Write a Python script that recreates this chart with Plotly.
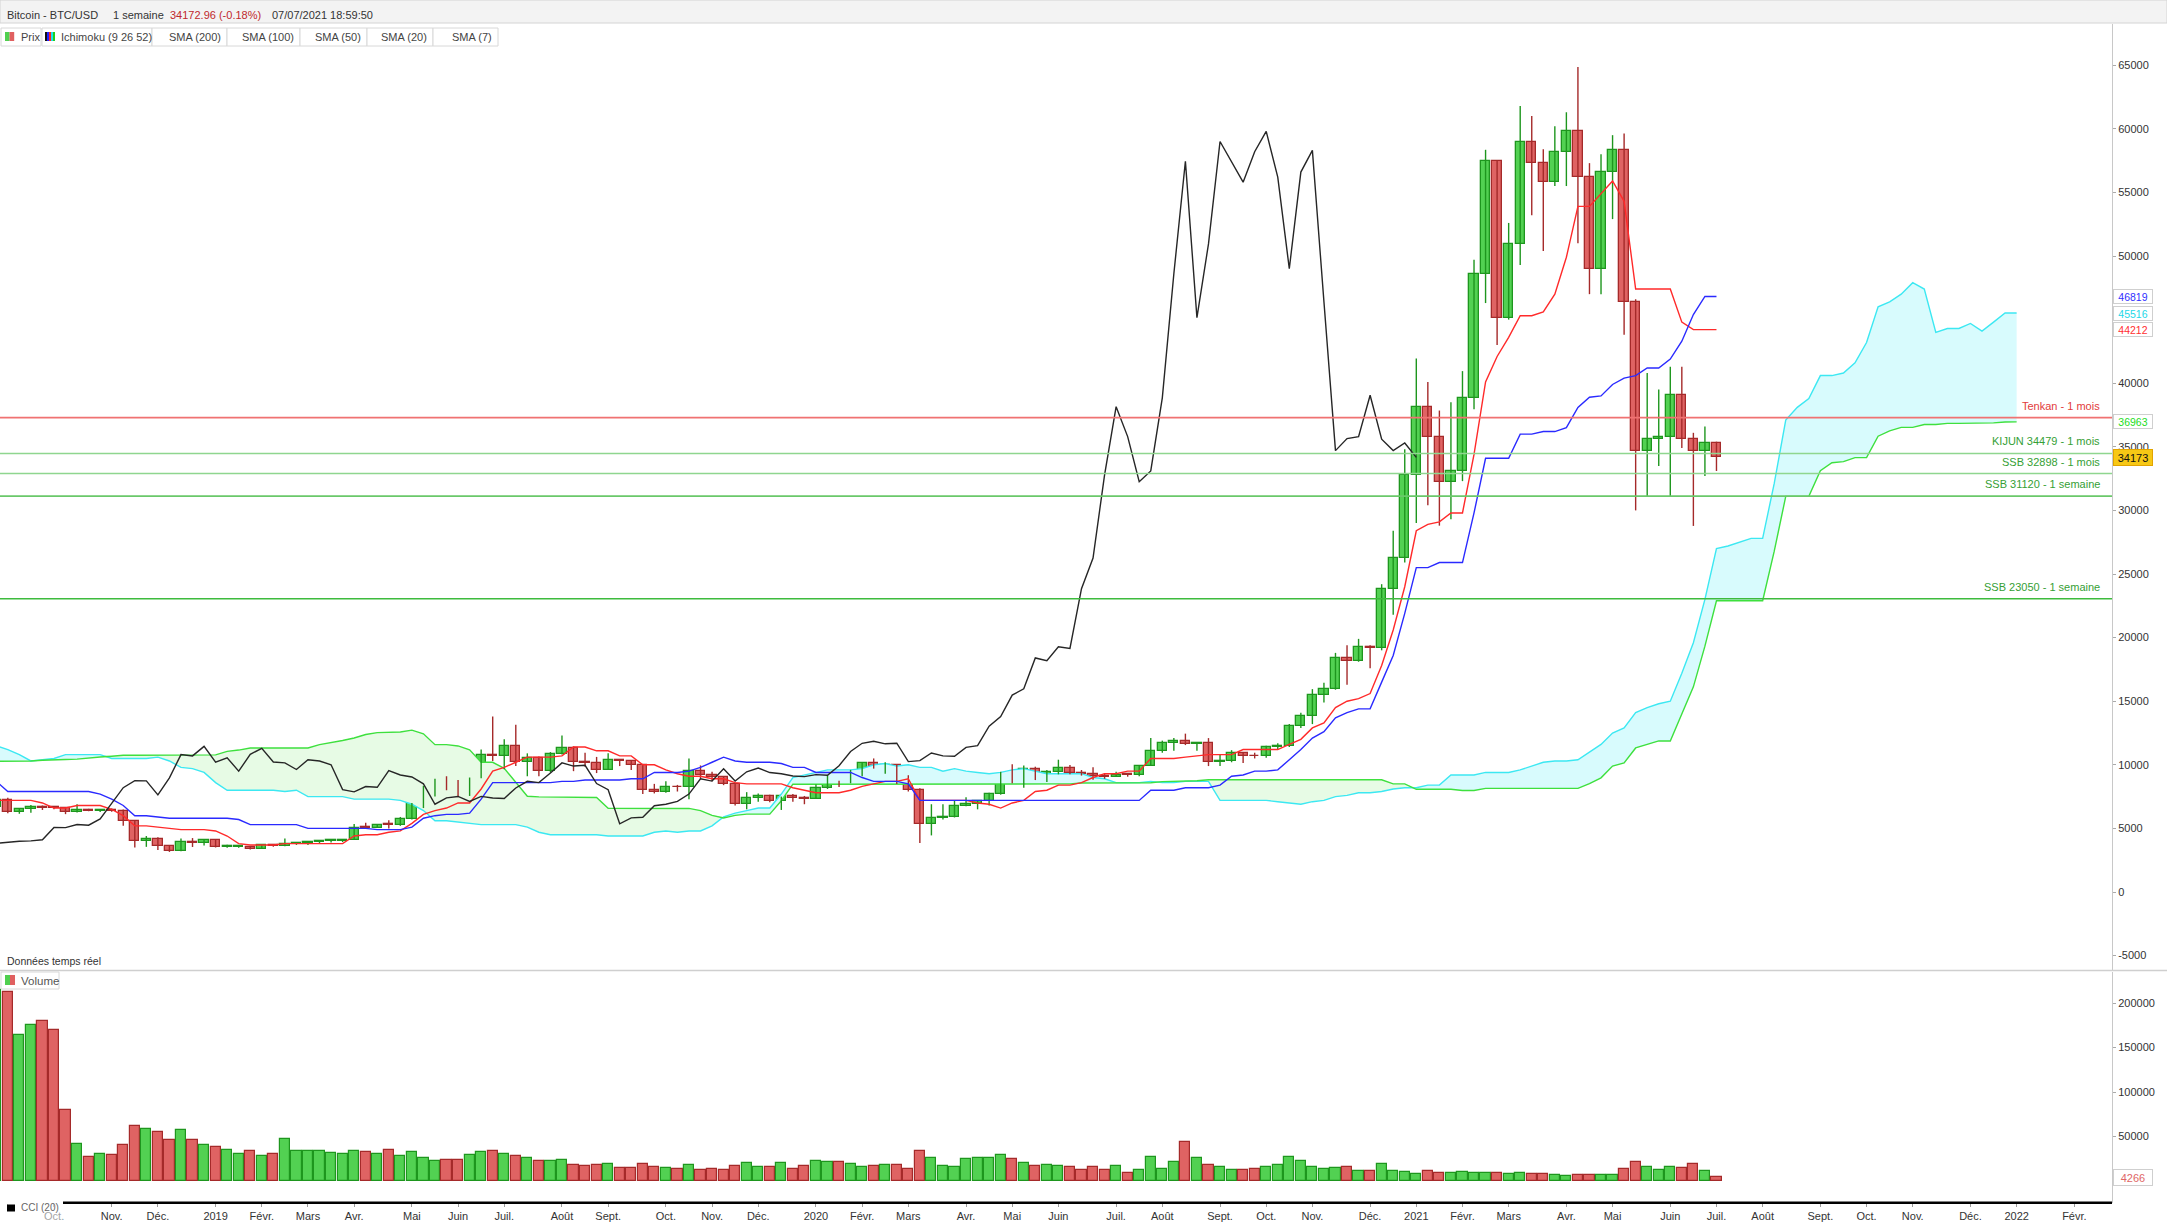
import pandas as pd
import plotly.graph_objects as go

W, H = 2167, 1223

# ---------------- data (weekly, first candle = week of 2018-08-27) ----------------
opens = [6710,7270,6260,6500,6700,6620,6590,6290,6410,6390,6480,6380,5580,4010,4140,3600,3250,3960,3830,4060,3530,3550,3570,3410,3660,3620,3750,3820,3920,3990,4020,4110,5070,5060,5300,5250,5750,6960,8200,8750,8740,7630,8980,10800,10700,11450,10200,10550,9500,10820,11300,10220,10150,9630,10400,10300,10000,8050,7870,8290,8230,9550,9200,9040,8500,6900,7400,7510,7120,7520,7390,7350,8180,8700,8600,9350,10150,9900,9960,8530,8040,5360,5830,5880,6780,6900,7120,7700,8900,8720,9680,8720,9450,9750,9390,9300,9120,9070,9230,9180,9930,11050,11690,11850,11650,11700,10250,10330,10930,10700,10670,11370,11500,13030,13800,15480,15970,18400,18180,19280,19150,23850,26250,32800,38150,35800,32250,33100,38850,48600,57450,45150,50950,59000,57350,55800,58200,59800,56200,49000,56600,58300,46400,34700,35650,35800,39050,35600,34700,35300]
highs = [7320,7410,6590,6830,6800,6680,6670,6900,6540,6490,6560,6480,5600,4400,4300,3620,4200,4240,4100,4100,3720,3630,3590,3700,3720,4200,3900,3930,4000,4060,4150,5350,5450,5350,5650,5900,7000,8350,8900,9100,8800,9000,11200,13800,12000,13150,10900,10650,11000,12300,11450,10950,10620,10900,10450,10350,10050,8500,8700,8420,10500,9950,9450,9100,8500,7850,7750,7650,7500,7700,7550,8450,9200,8750,9600,10200,10500,10200,10000,9180,8150,6900,6900,7200,7450,7200,7800,9450,10050,9950,9850,9600,10400,9980,9590,9800,9330,9450,9350,9980,12100,11900,12100,12450,11800,12100,10800,11150,10980,10950,11500,11700,13200,14100,15950,16450,18800,19400,19900,19400,24200,28400,34800,41950,40100,37850,38500,40950,49700,58350,57500,52600,61800,61000,58400,60200,61300,64860,57300,58000,59500,59640,46600,40800,39500,41300,41300,36100,36600,35400]
lows = [6650,6200,6150,6230,6450,6500,6120,6250,6350,6280,6300,5200,3500,3550,3300,3150,3200,3540,3650,3500,3470,3480,3350,3380,3560,3600,3700,3700,3840,3900,3930,4080,4950,5030,5000,5200,5700,6600,7500,8000,7450,7550,8950,10300,9650,9900,9100,9100,9400,10800,9500,9850,9350,9600,9900,9600,7700,7750,7800,7900,7300,8900,8700,8400,6800,6500,7100,7050,6450,7100,6900,7350,8100,8250,8550,9100,9700,9300,8500,7900,3850,4450,5700,5860,6750,6500,6800,7650,8550,8200,8800,8650,9250,9250,9150,8830,8900,9050,9066,9100,9900,10950,11100,11550,11100,9900,9900,10200,10150,10500,10550,11200,11400,12900,13200,14900,15900,16300,18100,17600,19000,21800,25900,29000,30400,28800,29300,32300,37950,46300,43000,45000,49300,53200,50400,55500,55500,51000,47000,47000,52900,43800,30000,31100,33500,31100,34900,28780,32700,33100]
closes = [7270,6260,6500,6700,6620,6590,6290,6410,6390,6480,6380,5580,4010,4140,3600,3250,3960,3830,4060,3530,3550,3570,3410,3660,3620,3750,3820,3920,3990,4020,4110,5070,5060,5300,5250,5750,6960,8200,8750,8740,7630,8980,10800,10700,11450,10200,10550,9500,10820,11300,10220,10150,9630,10400,10300,10000,8050,7870,8290,8230,9550,9200,9040,8500,6900,7400,7510,7120,7520,7390,7350,8180,8700,8600,9350,10150,9900,9960,8530,8040,5360,5830,5880,6780,6900,7120,7700,8900,8720,9680,8720,9450,9750,9390,9300,9120,9070,9230,9180,9930,11050,11690,11850,11650,11700,10250,10330,10930,10700,10670,11370,11500,13030,13800,15480,15970,18400,18180,19280,19150,23850,26250,32800,38150,35800,32250,33100,38850,48600,57450,45150,50950,59000,57350,55800,58200,59800,56200,49000,56600,58300,46400,34700,35650,35800,39050,35600,34700,35300,34173]
volumes = [214600,212000,163700,174900,179400,169300,79400,41600,26600,30000,28800,40100,61400,58000,54700,45700,56900,45700,40100,37800,34500,30000,33300,27700,30000,46800,33300,33300,33300,31100,30000,33300,32200,30000,34500,27700,32200,25500,22100,23200,23200,28800,32200,33300,30000,27700,25500,22100,22100,23200,17600,16500,17600,18700,14200,14200,18700,15400,14200,13100,17600,12000,13100,12000,16500,19800,15400,15400,19800,13100,16500,22100,21000,21000,18700,15400,16500,17600,17600,13100,33300,25500,16500,15400,24300,25500,25500,28800,24300,19800,16500,17600,16500,15400,12000,15400,12000,16500,8600,12000,26600,13100,21000,43400,25500,17600,15400,12000,12000,13100,15400,17600,26600,22100,15400,13100,14200,15400,10900,10900,18700,10900,9700,7500,10900,8600,8600,9700,8600,8600,8600,7500,8600,7500,7500,6400,5200,6400,6400,6400,6400,13100,21000,15400,12000,15400,14200,18700,10900,4266]

# Ichimoku (9 26 52) lines
tenkan = [7200,7200,7200,7200,7000,6600,6600,6800,6800,6800,6500,6000,5200,5200,5100,5000,4900,4900,4900,4800,4400,3800,3700,3700,3700,3800,3800,3800,3800,3800,3800,4400,4500,4500,4700,4800,5400,6100,6400,6600,7000,7000,8100,9500,9800,10200,10600,10600,10600,10700,11400,11400,11100,11100,10700,10700,10000,10000,9600,9300,9100,9100,8900,8900,8600,8500,8500,8500,8500,8200,8000,7800,7800,7800,8000,8300,8500,8700,8700,8900,7200,7200,7200,7200,7200,7000,6900,6600,7000,7200,7900,8000,8400,8400,8600,9000,9300,9300,9500,9500,10500,10500,10500,10600,10700,10800,10800,10800,11200,11200,11200,11200,11600,12000,12900,13300,14500,15000,15200,15600,17800,20600,24000,28400,28900,29100,29800,29800,34400,40100,42100,43600,45300,45300,45600,47000,49900,53900,53900,54900,55900,54300,47400,47400,47400,47400,44800,44210,44210,44210]
kijun = [8700,7900,7900,7900,7900,7900,7900,7900,7900,7700,7300,6800,6000,6000,5900,5800,5800,5800,5800,5800,5800,5700,5300,5300,5300,5300,5300,5000,5000,5000,5000,5000,5000,4900,4900,4900,5100,5800,6000,6100,6100,6200,7300,8600,8600,8600,8600,8600,8600,8700,8700,8800,8800,8800,8800,8900,8900,9400,9400,9400,9500,9800,10200,10600,10300,10200,10200,10200,10100,9800,9800,9400,9400,9400,9400,9000,8700,8700,8700,8500,7200,7200,7200,7200,7200,7200,7200,7200,7200,7200,7200,7200,7200,7200,7200,7200,7200,7200,7200,7200,8000,8000,8000,8200,8200,8200,8400,9100,9200,9500,9500,9600,10400,11200,12100,12600,13700,14100,14400,14400,16500,18600,21900,25500,25500,25900,25900,25900,29800,34100,34100,34100,36000,36000,36200,36200,36500,38100,38900,39000,39900,40400,40600,41200,41200,41900,43300,45400,46820,46820]
span_a = [11500,11200,10800,10300,10400,10500,10800,10800,10800,10800,10500,10500,10500,10500,10600,10300,9800,9700,9400,8600,8000,8000,8000,8000,8000,7900,8000,7500,7500,7500,7500,7300,7300,7300,7300,7200,6900,6400,5600,5600,5500,5400,5300,5300,5300,5300,5100,4700,4500,4500,4500,4500,4500,4400,4400,4400,4400,4700,4800,4700,4800,4800,5200,5900,6200,6400,6600,6600,7700,9000,9200,9400,9600,9600,9600,9700,10000,10100,9900,10000,9800,9800,9500,9700,9500,9400,9300,9400,9600,9700,9500,9300,9300,9300,9300,9000,8900,8600,8600,8600,8700,8600,8600,8700,8700,8700,7200,7200,7200,7200,7200,7100,7000,6900,7100,7200,7500,7600,7800,7800,7900,8100,8200,8200,8400,8400,9200,9200,9200,9400,9400,9400,9600,9900,10200,10300,10300,10400,11000,11600,12500,12900,14100,14500,14800,15000,17200,19600,23000,27000,27200,27500,27800,27800,32100,37100,38100,38800,40600,40600,40800,41600,43200,46000,46400,47000,47900,47400,44000,44300,44300,44700,44100,44800,45515,45515]
span_b = [10283,10283,10283,10298,10358,10413,10418,10448,10503,10608,10678,10748,10748,10748,10748,10748,10748,10748,10748,10783,11058,11158,11318,11318,11318,11318,11318,11318,11583,11733,11908,12108,12383,12533,12583,12583,12723,12433,11583,11583,11483,11175,10200,10200,9725,8625,7525,7475,7475,7475,7475,7425,7425,6575,6570,6570,6570,6570,6570,6570,6570,6400,6025,5825,6025,6125,6125,6125,7175,8475,8475,8475,8475,8475,8475,8475,8475,8475,8475,8475,8475,8475,8475,8475,8475,8475,8475,8475,8475,8475,8475,8475,8475,8500,8575,8575,8575,8575,8575,8575,8590,8680,8700,8750,8750,8820,8825,8825,8825,8825,8825,8825,8825,8825,8825,8825,8825,8825,8825,8825,8825,8500,8500,8075,8075,8075,8075,7975,7975,8150,8150,8150,8150,8150,8150,8150,8150,8150,8525,8975,9900,10150,11325,11625,11875,11875,14025,16125,19325,22900,22900,22900,22900,22900,26775,31100,31100,31100,33125,33750,33830,34150,34150,35830,36255,36530,36530,36755,36755,36845,36845,36845,36845,36880,36955,36963]

level_values = [37290, 34479, 32898, 31120, 23050]
level_labels = ['Tenkan - 1 mois', 'KIJUN 34479 - 1 mois', 'SSB 32898 - 1 mois', 'SSB 31120 - 1 semaine', 'SSB 23050 - 1 semaine']
last_labels = [46819, 45516, 44212, 36963]
last_price = 34173
last_volume = 4266
price_ticks = [-5000, 0, 5000, 10000, 15000, 20000, 25000, 30000, 35000, 40000, 45000, 50000, 55000, 60000, 65000]
hidden_ticks = [45000]   # covered by the last-value boxes in the original
volume_ticks = [50000, 100000, 150000, 200000]
month_names = ['Janv.', 'Févr.', 'Mars', 'Avr.', 'Mai', 'Juin', 'Juil.', 'Août', 'Sept.', 'Oct.', 'Nov.', 'Déc.']

# ---------------- helpers ----------------
def px(x):
    return x / W
def py(y):
    return 1 - y / H

dates = list(pd.date_range('2018-08-27', periods=len(closes), freq='W-MON'))
pos_dates = list(pd.date_range('2018-08-27', periods=len(span_a), freq='W-MON'))
WEEK_MS = 7 * 24 * 3600 * 1000
FONT = 'Liberation Sans, Arial, sans-serif'

GF, GL, RF, RL = '#52d152', '#1e961e', '#df6363', '#a52a2a'
up = [c >= o for o, c in zip(opens, closes)]

fig = go.Figure()

# cloud fills
top = [max(a, b) for a, b in zip(span_a, span_b)]
fig.add_trace(go.Scatter(x=pos_dates, y=span_b, mode='lines', line=dict(width=0), hoverinfo='skip'))
fig.add_trace(go.Scatter(x=pos_dates, y=top, mode='lines', line=dict(width=0), fill='tonexty', fillcolor='#d8fbfd', hoverinfo='skip'))
fig.add_trace(go.Scatter(x=pos_dates, y=span_a, mode='lines', line=dict(width=0), hoverinfo='skip'))
fig.add_trace(go.Scatter(x=pos_dates, y=top, mode='lines', line=dict(width=0), fill='tonexty', fillcolor='#e7fbe5', hoverinfo='skip'))
fig.add_trace(go.Scatter(x=pos_dates, y=span_a, mode='lines', line=dict(color='#3ce8f2', width=1.4)))
fig.add_trace(go.Scatter(x=pos_dates, y=span_b, mode='lines', line=dict(color='#3ee03e', width=1.4)))

# wicks
for flag, col in ((True, GL), (False, RL)):
    xs, ys = [], []
    for d, h, l, u in zip(dates, highs, lows, up):
        if u == flag:
            xs += [d, d, None]
            ys += [l, h, None]
    fig.add_trace(go.Scatter(x=xs, y=ys, mode='lines', line=dict(color=col, width=1.4), hoverinfo='skip'))

# candle bodies
body_base = [min(o, c) for o, c in zip(opens, closes)]
body_h = [max(abs(c - o), 60) for o, c in zip(opens, closes)]
fig.add_trace(go.Bar(x=dates, y=body_h, base=body_base, width=WEEK_MS * 0.8,
                     marker=dict(color=[GF if u else RF for u in up],
                                 line=dict(color=[GL if u else RL for u in up], width=1.3))))

# tenkan / kijun / chikou (close plotted 26 weeks back)
fig.add_trace(go.Scatter(x=dates, y=tenkan, mode='lines', line=dict(color='#ff2a2a', width=1.4)))
fig.add_trace(go.Scatter(x=dates, y=kijun, mode='lines', line=dict(color='#2a2aff', width=1.4)))
fig.add_trace(go.Scatter(x=dates[:len(closes) - 26], y=closes[26:], mode='lines', line=dict(color='#262626', width=1.4)))

# volume
fig.add_trace(go.Bar(x=dates, y=volumes, width=WEEK_MS * 0.88, yaxis='y2',
                     marker=dict(color=[GF if u else RF for u in up],
                                 line=dict(color=[GL if u else RL for u in up], width=1.2))))

# month ticks (first weekly bar of each month)
tick_dates, tick_text = [], []
for m in pd.date_range('2018-09-01', '2022-02-01', freq='MS'):
    d = m + pd.Timedelta(days=(7 - m.weekday()) % 7)
    tick_dates.append(d)
    tick_text.append(str(m.year) if m.month == 1 else month_names[m.month - 1])

x_start = pd.Timestamp('2018-09-03') - pd.Timedelta(hours=0.676 * 168)
x_end = pd.Timestamp('2018-09-03') + pd.Timedelta(hours=182.26 * 168)

shapes = []
annots = []

def rect(x0, y0, x1, y1, fill, line=None, lw=1):
    shapes.append(dict(type='rect', xref='paper', yref='paper', x0=px(x0), x1=px(x1), y0=py(y1), y1=py(y0),
                       fillcolor=fill, line=dict(color=line or fill, width=lw if line else 0), layer='above'))

def text(x, y, s, size=11, color='#333', anchor='left'):
    annots.append(dict(xref='paper', yref='paper', x=px(x), y=py(y), text=s, showarrow=False,
                       xanchor=anchor, yanchor='middle', font=dict(size=size, color=color, family=FONT)))

# horizontal levels
level_line_colors = ['#f07272', '#8fd68f', '#8fd68f', '#6ac86a', '#3dbb3d']
level_text_colors = ['#e23b3b', '#35a035', '#35a035', '#35a035', '#35a035']
for v, lab, lc, tc in zip(level_values, level_labels, level_line_colors, level_text_colors):
    shapes.append(dict(type='line', xref='paper', yref='y', x0=0, x1=px(2112), y0=v, y1=v,
                       line=dict(color=lc, width=1.6), layer='above'))
    annots.append(dict(xref='paper', yref='y', x=px(2102), y=v, yshift=12, text=lab, showarrow=False,
                       xanchor='right', yanchor='middle', font=dict(size=11, color=tc, family=FONT)))

# last value boxes on the price scale
box_colors = ['#3030ff', '#22d8e8', '#ff3030', '#22dd22']
for v, c in zip(last_labels, box_colors):
    annots.append(dict(xref='paper', yref='y', x=px(2113), y=v, text=str(v), showarrow=False, xanchor='left',
                       yanchor='middle', width=36, height=11, borderpad=1, borderwidth=1, bordercolor='#cfcfcf',
                       bgcolor='white', font=dict(size=10.5, color=c, family=FONT)))
annots.append(dict(xref='paper', yref='y', x=px(2113), y=last_price, text=str(last_price), showarrow=False,
                   xanchor='left', yanchor='middle', width=36, height=13, borderpad=1, borderwidth=1,
                   bordercolor='#e2a400', bgcolor='#f7c815', font=dict(size=11, color='#111', family=FONT)))
annots.append(dict(xref='paper', yref='y2', x=px(2113), y=last_volume, text=str(last_volume), showarrow=False,
                   xanchor='left', yanchor='middle', width=36, height=13, borderpad=1, borderwidth=1,
                   bordercolor='#cfcfcf', bgcolor='white', font=dict(size=11, color='#e06666', family=FONT)))

# header bar
rect(0, 0, W, 23, '#f3f3f3', '#d4d4d4')
text(5, 15, 'Bitcoin - BTC/USD', 11, '#333')
text(111, 15, '1 semaine', 11, '#333')
text(168, 15, '34172.96 (-0.18%)', 11, '#c0282d')
text(270, 15, '07/07/2021 18:59:50', 11, '#333')

# legend row
rect(1, 28, 41, 46, 'white', '#d8d8d8')
rect(5, 32, 9.6, 41, '#4fcf4f')
rect(9.6, 32, 14.2, 41, '#e06060')
text(19, 37, 'Prix', 11, '#444')
rect(42, 28, 152, 46, 'white', '#d8d8d8')
for k, c in enumerate(['#111111', '#2020ff', '#ff2020', '#20e0f0', '#20d020']):
    rect(45 + 2 * k, 32, 47 + 2 * k, 41, c)
text(59, 37, 'Ichimoku (9 26 52)', 11, '#444')
sma_boxes = [(152, 227, 'SMA (200)'), (227, 300, 'SMA (100)'), (300, 367, 'SMA (50)'), (367, 433, 'SMA (20)'), (433, 498, 'SMA (7)')]
for x0, x1, s in sma_boxes:
    rect(x0, 28, x1, 46, 'white', '#d8d8d8')
    text(x1 - 4, 37, s, 11, '#444', anchor='right')

text(5, 961, 'Données temps réel', 10.5, '#333')

# panel separator
shapes.append(dict(type='line', xref='paper', yref='paper', x0=0, x1=1, y0=py(970.5), y1=py(970.5),
                   line=dict(color='#cfcfcf', width=1.5), layer='above'))
# volume legend
rect(1, 972, 59, 989, 'white', '#d8d8d8')
rect(5, 975, 10, 985, '#4fcf4f')
rect(10, 975, 15, 985, '#e06060')
text(19, 980.5, 'Volume', 11.5, '#555')
# collapsed CCI panel
rect(63, 1201.5, 2112, 1204, '#000000')
rect(0, 1204, 63, 1221, 'rgba(255,255,255,0.55)')
rect(7, 1204.5, 15, 1211.5, '#000000')
text(19, 1207.5, 'CCI (20)', 10, '#666')

fig.update_layout(
    width=W, height=H, autosize=False, margin=dict(l=0, r=0, t=0, b=0),
    plot_bgcolor='white', paper_bgcolor='white', showlegend=False, barmode='overlay', bargap=0,
    font=dict(family=FONT, size=11, color='#333'),
    xaxis=dict(domain=[0, px(2112)], anchor='y2', type='date', range=[x_start, x_end],
               tickvals=tick_dates, ticktext=tick_text, ticks='outside', ticklen=3, tickcolor='#9a9a9a',
               tickfont=dict(size=11, color='#333'), showgrid=False, zeroline=False, showline=False),
    yaxis=dict(domain=[py(970), py(24)], anchor='x', side='right', range=[-6132, 68239],
               tickvals=price_ticks, ticktext=['' if v in hidden_ticks else str(v) for v in price_ticks],
               ticks='outside', ticklen=3,
               tickcolor='#aaaaaa', tickfont=dict(size=11, color='#333'), showgrid=False, zeroline=False,
               showline=True, linecolor='#c8c8c8', mirror=True),
    yaxis2=dict(domain=[py(1203), py(972)], anchor='x', side='right', range=[-24720, 234830],
                tickvals=volume_ticks, ticktext=[str(v) for v in volume_ticks], ticks='outside', ticklen=3,
                tickcolor='#aaaaaa', tickfont=dict(size=11, color='#333'), showgrid=False, zeroline=False,
                showline=True, linecolor='#c8c8c8', mirror=True),
    shapes=shapes, annotations=annots,
)

fig.write_html('out.html', config={'displayModeBar': False},
               post_script="document.body.style.margin='0';document.body.style.overflow='hidden';")
